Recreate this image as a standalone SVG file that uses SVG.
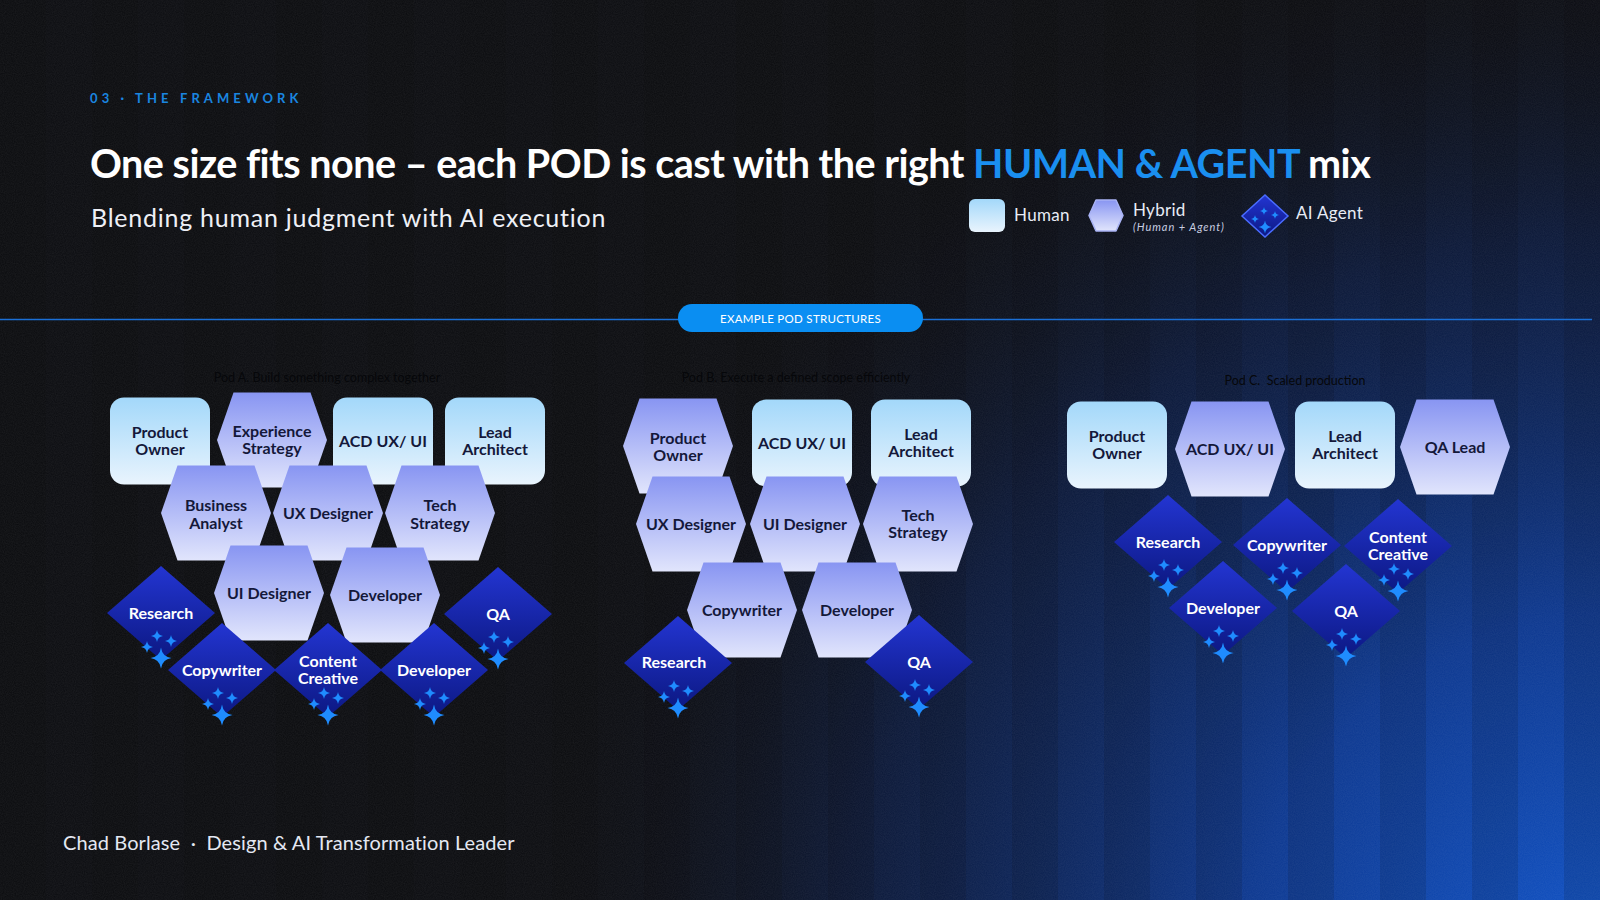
<svg xmlns="http://www.w3.org/2000/svg" xmlns:xlink="http://www.w3.org/1999/xlink" width="1600" height="900" viewBox="0 0 1600 900">
<defs>
<style>
.ft{font-family:Lato,"Liberation Sans",sans-serif}
.nt{font-family:Lato,"Liberation Sans",sans-serif;font-weight:700;font-size:16px;text-anchor:middle;fill:#14183a}
.at{font-family:Lato,"Liberation Sans",sans-serif;font-weight:700;font-size:16px;text-anchor:middle;fill:#ffffff}
.cap{font-family:Lato,"Liberation Sans",sans-serif;font-size:12.5px;text-anchor:middle;fill:#06070a}
.hum{fill:url(#gHum)}
.hyb{fill:url(#gHyb)}
.agt{fill:url(#gAgt)}
.spk{fill:#1f8cff}
</style>
<linearGradient id="gHum" x1="0" y1="0" x2="0" y2="1"><stop offset="0" stop-color="#a3d8fa"/><stop offset="1" stop-color="#e9f4fd"/></linearGradient>
<linearGradient id="gHyb" x1="0" y1="0" x2="0" y2="1"><stop offset="0" stop-color="#8895f2"/><stop offset="1" stop-color="#e1e5fc"/></linearGradient>
<linearGradient id="gAgt" x1="0" y1="0" x2="0" y2="1"><stop offset="0" stop-color="#2335d2"/><stop offset="1" stop-color="#0c1882"/></linearGradient>
<radialGradient id="gGlow" gradientUnits="userSpaceOnUse" cx="1620" cy="1000" r="1100">
<stop offset="0" stop-color="#0f57d2" stop-opacity="1"/>
<stop offset="0.35" stop-color="#0c3fa6" stop-opacity="0.85"/>
<stop offset="0.7" stop-color="#0b2460" stop-opacity="0.5"/>
<stop offset="1" stop-color="#0b0c10" stop-opacity="0"/>
</radialGradient>
<pattern id="pStripe" patternUnits="userSpaceOnUse" width="92" height="900">
<rect x="0" y="0" width="46" height="900" fill="#000" opacity="0.12"/>
</pattern>
<filter id="fNoise" x="0" y="0" width="100%" height="100%">
<feTurbulence type="fractalNoise" baseFrequency="0.9" numOctaves="2" seed="3"/>
<feColorMatrix type="matrix" values="0 0 0 0 1  0 0 0 0 1  0 0 0 0 1  0 0 0 0.07 0"/>
</filter>
<path id="star" d="M0,-1 Q0.12,-0.12 1,0 Q0.12,0.12 0,1 Q-0.12,0.12 -1,0 Q-0.12,-0.12 0,-1Z"/>
<g id="sparks" class="spk">
<use href="#star" transform="translate(-4,23) scale(6)"/>
<use href="#star" transform="translate(10,28) scale(6)"/>
<use href="#star" transform="translate(-14,34) scale(6)"/>
<use href="#star" transform="translate(0,45) scale(10.5)"/>
</g>
<path id="hex" d="M-55,0 L-38.5,-47.5 L38.5,-47.5 L55,0 L38.5,47.5 L-38.5,47.5Z"/>
<path id="dia" d="M0,-47 L54,0 L0,47 L-54,0Z"/>
<rect id="hrect" x="-50" y="-43.5" width="100" height="87" rx="14"/>
</defs>

<!-- background -->
<rect x="0" y="0" width="1600" height="900" fill="#0b0c10"/>
<rect x="0" y="0" width="1600" height="900" fill="url(#gGlow)"/>
<rect x="0" y="0" width="1600" height="900" fill="url(#pStripe)"/>
<rect x="0" y="0" width="1600" height="900" filter="url(#fNoise)"/>

<!-- header -->
<text class="ft" x="90" y="103" font-size="13" font-weight="700" letter-spacing="4.1" fill="#1a86e0">03&#160;·&#160;THE FRAMEWORK</text>
<text class="ft" x="90" y="178" font-size="39.5" font-weight="700" letter-spacing="-0.5" fill="#ffffff">One size fits none – each POD is cast with the right <tspan fill="#1a8ff0">HUMAN &amp; AGENT</tspan> mix</text>
<text class="ft" x="91" y="227" font-size="25" letter-spacing="0.75" fill="#eef0f6">Blending human judgment with AI execution</text>

<!-- legend -->
<g id="legend">
<rect x="969" y="199" width="36" height="33" rx="6" class="hum"/>
<text class="ft" x="1014" y="221" font-size="17" letter-spacing="0.3" fill="#e8ecf5">Human</text>
<path d="M1089,215.5 L1096,200 L1116,200 L1123,215.5 L1116,231 L1096,231Z" class="hyb" stroke="#a9b3f5" stroke-width="1.5" stroke-linejoin="round"/>
<text class="ft" x="1133" y="216" font-size="17" letter-spacing="0.3" fill="#e8ecf5">Hybrid</text>
<text class="ft" x="1133" y="231" font-size="11" font-style="italic" letter-spacing="0.95" fill="#c8cde0">(Human + Agent)</text>
<path d="M1265,195 L1288,216 L1265,237 L1242,216Z" class="agt" stroke="#4a6cff" stroke-width="1.5"/>
<g class="spk">
<use href="#star" transform="translate(1264,211) scale(4)"/>
<use href="#star" transform="translate(1275,215) scale(4)"/>
<use href="#star" transform="translate(1255,219) scale(4)"/>
<use href="#star" transform="translate(1265,227) scale(6.5)"/>
</g>
<text class="ft" x="1296" y="219" font-size="17" letter-spacing="0.3" fill="#e8ecf5">AI Agent</text>
</g>

<!-- divider -->
<g id="divider">
<line x1="0" y1="319.5" x2="1592" y2="319.5" stroke="#1b6fd6" stroke-width="1.5"/>
<rect x="678" y="304" width="245" height="28" rx="14" fill="#0a8ef2"/>
<text class="ft" x="800.5" y="322.5" font-size="11.5" text-anchor="middle" fill="#ffffff" letter-spacing="0.3">EXAMPLE POD STRUCTURES</text>
</g>

<!-- captions -->
<text class="cap" x="327" y="382">Pod A. Build something complex together</text>
<text class="cap" x="796" y="382">Pod B. Execute a defined scope efficiently</text>
<text class="cap" x="1295" y="385">Pod C.&#160; Scaled production</text>

<!-- POD A -->
<g id="podA">
<g id="a-product-owner"><use href="#hrect" x="160" y="441" class="hum"/><text class="nt" x="160" y="438">Product</text><text class="nt" x="160" y="455">Owner</text></g>
<g id="a-acd"><use href="#hrect" x="383" y="441" class="hum"/><text class="nt" x="383" y="447">ACD UX/ UI</text></g>
<g id="a-lead-architect"><use href="#hrect" x="495" y="441" class="hum"/><text class="nt" x="495" y="438">Lead</text><text class="nt" x="495" y="455">Architect</text></g>
<g id="a-experience-strategy"><use href="#hex" x="272" y="440" class="hyb"/><text class="nt" x="272" y="437">Experience</text><text class="nt" x="272" y="454">Strategy</text></g>
<g id="a-business-analyst"><use href="#hex" x="216" y="513" class="hyb"/><text class="nt" x="216" y="511">Business</text><text class="nt" x="216" y="529">Analyst</text></g>
<g id="a-ux-designer"><use href="#hex" x="328" y="513" class="hyb"/><text class="nt" x="328" y="519">UX Designer</text></g>
<g id="a-tech-strategy"><use href="#hex" x="440" y="513" class="hyb"/><text class="nt" x="440" y="511">Tech</text><text class="nt" x="440" y="529">Strategy</text></g>
<g id="a-ui-designer"><use href="#hex" x="269" y="593" class="hyb"/><text class="nt" x="269" y="599">UI Designer</text></g>
<g id="a-developer-h"><use href="#hex" x="385" y="595" class="hyb"/><text class="nt" x="385" y="601">Developer</text></g>
<g id="a-research"><use href="#dia" x="161" y="613" class="agt"/><text class="at" x="161" y="619">Research</text><use href="#sparks" x="161" y="613"/></g>
<g id="a-copywriter"><use href="#dia" x="222" y="670" class="agt"/><text class="at" x="222" y="676">Copywriter</text><use href="#sparks" x="222" y="670"/></g>
<g id="a-content-creative"><use href="#dia" x="328" y="670" class="agt"/><text class="at" x="328" y="667">Content</text><text class="at" x="328" y="684">Creative</text><use href="#sparks" x="328" y="670"/></g>
<g id="a-developer-a"><use href="#dia" x="434" y="670" class="agt"/><text class="at" x="434" y="676">Developer</text><use href="#sparks" x="434" y="670"/></g>
<g id="a-qa"><use href="#dia" x="498" y="614" class="agt"/><text class="at" x="498" y="620">QA</text><use href="#sparks" x="498" y="614"/></g>
</g>

<!-- POD B -->
<g id="podB">
<g id="b-product-owner"><use href="#hex" x="678" y="446" class="hyb"/><text class="nt" x="678" y="444">Product</text><text class="nt" x="678" y="461">Owner</text></g>
<g id="b-acd"><use href="#hrect" x="802" y="443" class="hum"/><text class="nt" x="802" y="449">ACD UX/ UI</text></g>
<g id="b-lead-architect"><use href="#hrect" x="921" y="443" class="hum"/><text class="nt" x="921" y="440">Lead</text><text class="nt" x="921" y="457">Architect</text></g>
<g id="b-ux-designer"><use href="#hex" x="691" y="524" class="hyb"/><text class="nt" x="691" y="530">UX Designer</text></g>
<g id="b-ui-designer"><use href="#hex" x="805" y="524" class="hyb"/><text class="nt" x="805" y="530">UI Designer</text></g>
<g id="b-tech-strategy"><use href="#hex" x="918" y="524" class="hyb"/><text class="nt" x="918" y="521">Tech</text><text class="nt" x="918" y="538">Strategy</text></g>
<g id="b-copywriter"><use href="#hex" x="742" y="610" class="hyb"/><text class="nt" x="742" y="616">Copywriter</text></g>
<g id="b-developer"><use href="#hex" x="857" y="610" class="hyb"/><text class="nt" x="857" y="616">Developer</text></g>
<g id="b-research"><use href="#dia" x="678" y="663" class="agt"/><text class="at" x="674" y="668">Research</text><use href="#sparks" x="678" y="663"/></g>
<g id="b-qa"><use href="#dia" x="919" y="662" class="agt"/><text class="at" x="919" y="668">QA</text><use href="#sparks" x="919" y="662"/></g>
</g>

<!-- POD C -->
<g id="podC">
<g id="c-product-owner"><use href="#hrect" x="1117" y="445" class="hum"/><text class="nt" x="1117" y="442">Product</text><text class="nt" x="1117" y="459">Owner</text></g>
<g id="c-acd"><use href="#hex" x="1230" y="449" class="hyb"/><text class="nt" x="1230" y="455">ACD UX/ UI</text></g>
<g id="c-lead-architect"><use href="#hrect" x="1345" y="445" class="hum"/><text class="nt" x="1345" y="442">Lead</text><text class="nt" x="1345" y="459">Architect</text></g>
<g id="c-qa-lead"><use href="#hex" x="1455" y="447" class="hyb"/><text class="nt" x="1455" y="453">QA Lead</text></g>
<g id="c-research"><use href="#dia" x="1168" y="542" class="agt"/><text class="at" x="1168" y="548">Research</text><use href="#sparks" x="1168" y="542"/></g>
<g id="c-copywriter"><use href="#dia" x="1287" y="545" class="agt"/><text class="at" x="1287" y="551">Copywriter</text><use href="#sparks" x="1287" y="545"/></g>
<g id="c-content-creative"><use href="#dia" x="1398" y="546" class="agt"/><text class="at" x="1398" y="543">Content</text><text class="at" x="1398" y="560">Creative</text><use href="#sparks" x="1398" y="546"/></g>
<g id="c-developer"><use href="#dia" x="1223" y="608" class="agt"/><text class="at" x="1223" y="614">Developer</text><use href="#sparks" x="1223" y="608"/></g>
<g id="c-qa"><use href="#dia" x="1346" y="611" class="agt"/><text class="at" x="1346" y="617">QA</text><use href="#sparks" x="1346" y="611"/></g>
</g>

<g id="connectors"/>

<!-- footer -->
<text class="ft" x="63" y="850" font-size="20" letter-spacing="0.1" fill="#e4e8f2">Chad Borlase&#160;&#160;·&#160;&#160;Design &amp; AI Transformation Leader</text>
</svg>
